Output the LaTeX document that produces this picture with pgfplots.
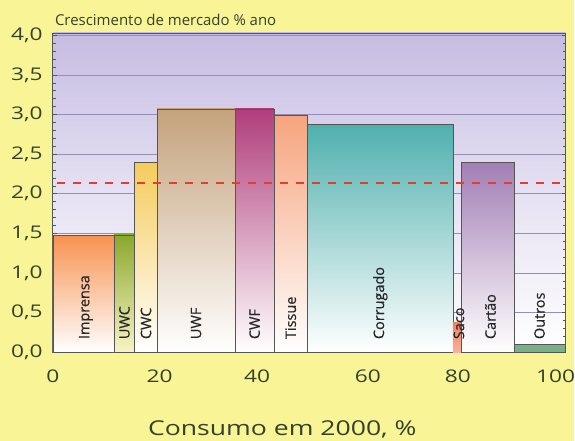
\documentclass[border=0pt]{standalone}
\usepackage{pgfplots}
\pgfplotsset{compat=1.18}
\usepackage{fontspec}
\setmainfont{Open Sans}
\newfontfamily\widefont{Open Sans}[FakeStretch=1.3]
\newfontfamily\labfont{Open Sans}[FakeBold=0.4]
\definecolor{bgyellow}{RGB}{249,244,150}
\definecolor{lav}{RGB}{198,188,226}
\definecolor{gridcol}{RGB}{150,142,180}
\definecolor{labcol}{RGB}{52,66,44}
\definecolor{axcol}{RGB}{80,90,80}
\definecolor{barline}{RGB}{85,85,85}
\definecolor{cImp}{RGB}{247,146,80}
\definecolor{cUWC}{RGB}{138,168,44}
\definecolor{cCWC}{RGB}{244,204,92}
\definecolor{cUWF}{RGB}{196,162,124}
\definecolor{cCWF}{RGB}{176,62,124}
\definecolor{cTis}{RGB}{246,164,126}
\definecolor{cCor}{RGB}{80,176,174}
\definecolor{cSac}{RGB}{240,128,96}
\definecolor{cCar}{RGB}{162,126,180}
\definecolor{cOut}{RGB}{122,176,136}
\definecolor{dashcol}{RGB}{226,62,40}
\begin{document}
\begin{tikzpicture}[x=1pt,y=1pt]
\fill[bgyellow] (0,0) rectangle (575,442);
\begin{axis}[at={(53pt,89pt)}, anchor=south west, scale only axis,
  width=514pt, height=320pt,
  xmin=0, xmax=102.4, ymin=0, ymax=4.03,
  axis background/.style={top color=lav, bottom color=white, middle color=lav!45!white},
  ytick={0,0.5,1,1.5,2,2.5,3,3.5,4}, minor y tick num=4,
  xtick={0,21.3,40.8,62.9,80.9,100.4},
  xticklabels={0,20,40,60,80,100},
  ymajorgrids, major grid style={gridcol, line width=0.6pt},
  tick align=inside, major tick length=4pt, minor tick length=3pt,
  tick style={axcol, line width=0.5pt},
  xtick style={draw=none},
  /pgf/number format/assume math mode=true,
  tick label style={font=\widefont\fontsize{17.5}{17.5}\selectfont, text=labcol},
  xticklabel style={anchor=base, yshift=-30pt, inner sep=0pt},
  yticklabel style={anchor=east, inner sep=0pt, xshift=-10pt, /pgf/number format/.cd, fixed, fixed zerofill, precision=1, use comma},
  axis line style={draw=axcol, line width=0.8pt},
  clip=false,
]
\addplot[draw=barline, line width=0.6pt, top color=cImp, middle color=cImp!70!white, bottom color=white] coordinates {(0,0) (0,1.47) (12.2,1.47) (12.2,0)} --cycle;
\addplot[draw=barline, line width=0.6pt, top color=cUWC, bottom color={rgb,255:red,248;green,244;blue,196}] coordinates {(12.2,0) (12.2,1.48) (16.3,1.48) (16.3,0)} --cycle;
\addplot[draw=barline, line width=0.6pt, top color=cCWC, bottom color=white] coordinates {(16.3,0) (16.3,2.40) (20.8,2.40) (20.8,0)} --cycle;
\addplot[draw=barline, line width=0.6pt, top color=cUWF, bottom color=white] coordinates {(20.8,0) (20.8,3.07) (36.4,3.07) (36.4,0)} --cycle;
\addplot[draw=barline, line width=0.6pt, top color=cCWF, bottom color=white] coordinates {(36.4,0) (36.4,3.07) (44.2,3.07) (44.2,0)} --cycle;
\addplot[draw=barline, line width=0.6pt, top color=cTis, bottom color=white] coordinates {(44.2,0) (44.2,2.99) (50.8,2.99) (50.8,0)} --cycle;
\addplot[draw=barline, line width=0.6pt, top color=cCor, middle color=cCor!50!white, bottom color=white] coordinates {(50.8,0) (50.8,2.87) (79.9,2.87) (79.9,0)} --cycle;
\addplot[draw=none, top color=cSac, bottom color=cSac!60!white] coordinates {(79.9,0) (79.9,0.38) (81.6,0.38) (81.6,0)} --cycle;
\addplot[draw=barline, line width=0.6pt, top color=cCar, bottom color=white] coordinates {(81.6,0) (81.6,2.40) (92.1,2.40) (92.1,0)} --cycle;
\addplot[draw=barline, line width=0.6pt, fill=cOut] coordinates {(92.1,0) (92.1,0.10) (102.4,0.10) (102.4,0)} --cycle;
\addplot[dashcol, line width=2.2pt, dash pattern=on 8pt off 8pt] coordinates {(0.8,2.14) (102,2.14)};
\begin{scope}[every node/.style={rotate=90, anchor=west, font=\labfont\fontsize{14.5}{14.5}\selectfont, text=black!85}]
\node at (axis cs:6.6,0.12) {Imprensa};
\node at (axis cs:14.3,0.12) {UWC};
\node at (axis cs:18.6,0.12) {CWC};
\node at (axis cs:28.6,0.12) {UWF};
\node at (axis cs:40.3,0.12) {CWF};
\node at (axis cs:47.5,0.12) {Tissue};
\node at (axis cs:65.4,0.12) {Corrugado};
\node at (axis cs:81.1,0.12) {Saco};
\node at (axis cs:87.4,0.12) {Cartão};
\node at (axis cs:97.2,0.12) {Outros};
\end{scope}
\end{axis}
\node[anchor=base west, text=labcol, font=\fontsize{15}{15}\selectfont, inner sep=0pt] at (55,416) {Crescimento de mercado \% ano};
\node[anchor=base, text=labcol, font=\widefont\fontsize{20.5}{20.5}\selectfont, inner sep=0pt] at (283,5) {Consumo em 2000, \%};
\useasboundingbox (0,0) rectangle (575,442);
\end{tikzpicture}
\end{document}
